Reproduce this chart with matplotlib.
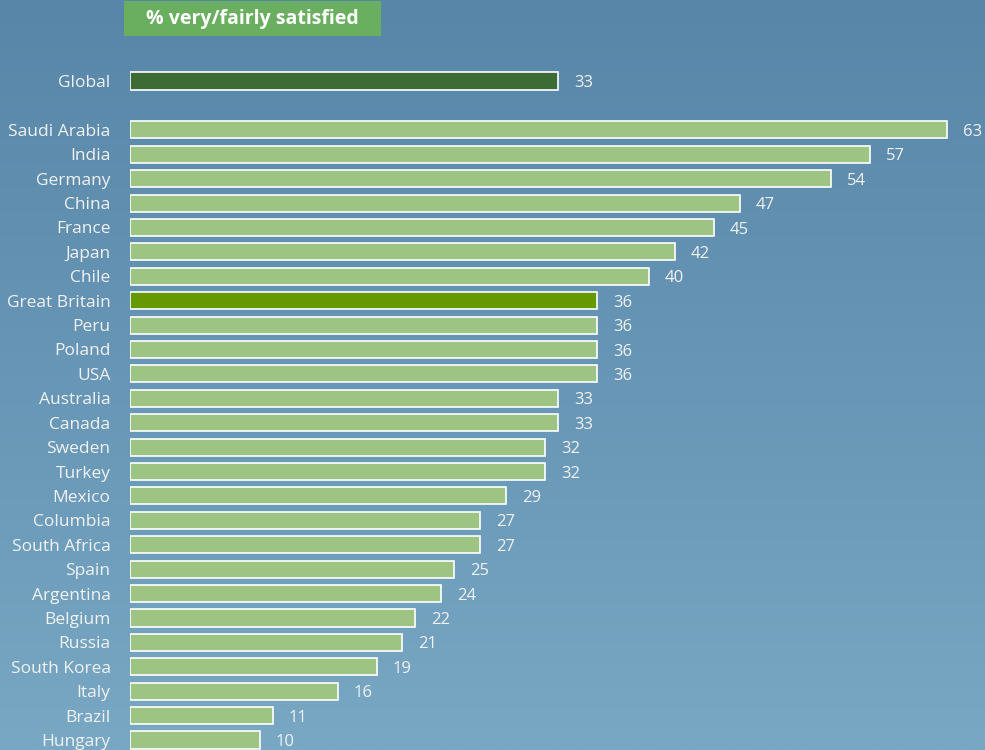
import numpy as np
import matplotlib.pyplot as plt
from matplotlib.colors import LinearSegmentedColormap
from matplotlib.patches import Rectangle

plt.rcParams['font.family'] = ['Open Sans', 'DejaVu Sans']

countries = ['Global', 'Saudi Arabia', 'India', 'Germany', 'China', 'France', 'Japan', 'Chile',
             'Great Britain', 'Peru', 'Poland', 'USA', 'Australia', 'Canada', 'Sweden', 'Turkey',
             'Mexico', 'Columbia', 'South Africa', 'Spain', 'Argentina', 'Belgium', 'Russia',
             'South Korea', 'Italy', 'Brazil', 'Hungary']
values = [33, 63, 57, 54, 47, 45, 42, 40, 36, 36, 36, 36, 33, 33, 32, 32, 29, 27, 27, 25, 24,
          22, 21, 19, 16, 11, 10]
title = '% very/fairly satisfied'

# global sits apart, one empty row below it
pos = [0] + list(range(2, len(countries) + 1))
colors = []
for c in countries:
    if c == 'Global':
        colors.append('#3d6b35')
    elif c == 'Great Britain':
        colors.append('#669900')
    else:
        colors.append('#9dc483')

fig = plt.figure(figsize=(9.85, 7.5), dpi=100)

# background gradient
bg = fig.add_axes([0, 0, 1, 1])
cmap = LinearSegmentedColormap.from_list('bg', ['#5786a8', '#6796b6', '#78a8c3'])
grad = np.linspace(0, 1, 256).reshape(-1, 1)
bg.imshow(grad, aspect='auto', cmap=cmap, extent=[0, 1, 0, 1], origin='upper')
bg.axis('off')

ax = fig.add_axes([130 / 985, 0, 855 / 985, 1])
ax.patch.set_alpha(0)
ax.barh(pos, values, height=0.7, color=colors, edgecolor='white', linewidth=1.2)
ax.set_xlim(0, 65.9)
ax.set_ylim(27.41, -3.32)
ax.set_yticks(pos)
ax.set_yticklabels(countries, fontsize=12.5, color='#f2f2f2')
ax.tick_params(axis='y', length=0, pad=14)
ax.set_xticks([])
for s in ax.spines.values():
    s.set_visible(False)

for p, v in zip(pos, values):
    ax.annotate(str(v), (v, p), xytext=(11.5, -1.5), textcoords='offset points',
                va='center', ha='left', fontsize=12, color='#f2f2f2')

# title box
fig.patches.append(Rectangle((124 / 985, 1 - 36 / 750), 257 / 985, 35 / 750,
                             transform=fig.transFigure, facecolor='#6aaf5f',
                             edgecolor='none', zorder=3))
fig.text(252 / 985, 1 - 19 / 750, title, ha='center', va='center', fontsize=14,
         fontweight='bold', color='white', zorder=4)

fig.savefig('out.png', dpi=100)
